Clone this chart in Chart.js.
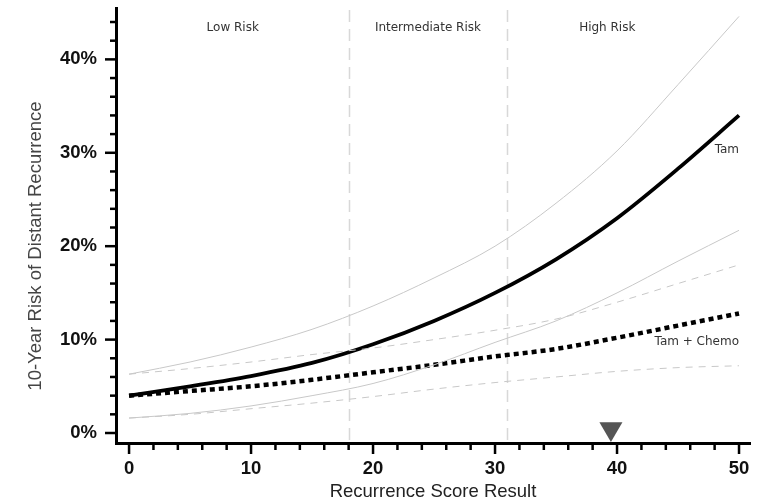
<!DOCTYPE html>
<html>
<head>
<meta charset="utf-8">
<script src="https://cdn.jsdelivr.net/npm/chart.js@4/dist/chart.umd.min.js"></script>
<style>
  html, body { margin: 0; padding: 0; background: #fff; }
  #wrap { width: 768px; height: 502px; }
</style>
</head>
<body>
<div id="wrap"><canvas id="riskChart" width="768" height="502"></canvas></div>
<script>
// Recurrence score values (x)
const scores = [0, 5, 10, 15, 20, 25, 30, 35, 40, 45, 50];

// 10-year distant recurrence (%)
const tam        = [4.0, 5.0, 6.1, 7.5, 9.5, 12.0, 15.0, 18.6, 23.0, 28.3, 34.0];
const tamUpper   = [6.3, 7.6, 9.2, 11.1, 13.6, 16.6, 20.0, 24.6, 30.2, 37.3, 44.6];
const tamLower   = [1.6, 2.1, 2.9, 4.0, 5.3, 7.3, 9.7, 12.0, 15.0, 18.4, 21.7];
const chemo      = [4.0, 4.5, 5.0, 5.7, 6.5, 7.3, 8.2, 9.0, 10.2, 11.5, 12.8];
const chemoUpper = [6.3, 6.9, 7.6, 8.4, 9.1, 10.0, 11.0, 12.2, 14.0, 16.0, 18.0];
const chemoLower = [1.6, 2.0, 2.6, 3.2, 3.9, 4.7, 5.4, 6.0, 6.6, 7.0, 7.2];

// Risk group cut points and labels
const riskCuts = [18, 31];
const riskLabels = ['Low Risk', 'Intermediate Risk', 'High Risk'];
const riskLabelX = [8.5, 24.5, 39.2];

// Patient marker
const patientScore = [39.5];

// Tick labels
const xTicks = [0, 10, 20, 30, 40, 50];
const yTicks = [0, 10, 20, 30, 40];

function pts(ys) {
    return scores.map((s, i) => ({ x: s, y: ys[i] }));
}

function lineSet(label, ys, color, width, dash) {
    return {
        label: label,
        data: pts(ys),
        borderColor: color,
        borderWidth: width,
        borderDash: dash || [],
        borderCapStyle: 'butt',
        pointRadius: 0,
        fill: false,
        cubicInterpolationMode: 'monotone'
    };
}

const decorPlugin = {
    id: 'decor',
    beforeDatasetsDraw(chart) {
        const { ctx, chartArea, scales: { x } } = chart;
        ctx.save();
        ctx.strokeStyle = '#d8d8d8';
        ctx.lineWidth = 1.5;
        ctx.setLineDash([12, 7]);
        riskCuts.forEach(v => {
            const px = Math.round(x.getPixelForValue(v)) + 0.5;
            ctx.beginPath();
            ctx.moveTo(px, chartArea.top + 2);
            ctx.lineTo(px, chartArea.bottom);
            ctx.stroke();
        });
        ctx.restore();
    },
    afterDraw(chart) {
        const { ctx, chartArea, scales: { x, y } } = chart;
        ctx.save();

        // tick marks: long at every 10, short every 2
        ctx.strokeStyle = '#000';
        ctx.lineWidth = 2.5;
        for (let v = 0; v <= 50; v += 2) {
            const px = x.getPixelForValue(v);
            const len = v % 10 === 0 ? 11 : 7;
            ctx.beginPath();
            ctx.moveTo(px, chartArea.bottom);
            ctx.lineTo(px, chartArea.bottom + len);
            ctx.stroke();
        }
        for (let v = 0; v <= 44; v += 2) {
            const py = y.getPixelForValue(v);
            const len = v % 10 === 0 ? 11 : 6;
            ctx.beginPath();
            ctx.moveTo(chartArea.left, py);
            ctx.lineTo(chartArea.left - len, py);
            ctx.stroke();
        }

        // risk group labels
        ctx.fillStyle = '#333';
        ctx.font = '12px "DejaVu Sans"';
        ctx.textAlign = 'center';
        ctx.textBaseline = 'middle';
        riskLabels.forEach((t, i) => {
            ctx.fillText(t, x.getPixelForValue(riskLabelX[i]), y.getPixelForValue(43.4));
        });

        // curve labels
        ctx.textAlign = 'right';
        ctx.fillText('Tam', x.getPixelForValue(50), y.getPixelForValue(30.3));
        ctx.fillText('Tam + Chemo', x.getPixelForValue(50), y.getPixelForValue(9.8));

        // y axis title
        ctx.translate(36, 246);
        ctx.rotate(-Math.PI / 2);
        ctx.textAlign = 'center';
        ctx.fillStyle = '#444';
        ctx.font = '18.5px "Liberation Sans", Arial, sans-serif';
        ctx.fillText('10-Year Risk of Distant Recurrence', 0, 0);
        ctx.restore();
    }
};

const tickFont = { family: '"Liberation Sans", Arial, sans-serif', size: 18.5, weight: 'bold' };

new Chart(document.getElementById('riskChart'), {
    type: 'line',
    data: {
        datasets: [
            lineSet('Tam upper', tamUpper, '#c8c8c8', 1),
            lineSet('Tam lower', tamLower, '#c8c8c8', 1),
            lineSet('Tam + Chemo upper', chemoUpper, '#c8c8c8', 1, [7, 6]),
            lineSet('Tam + Chemo lower', chemoLower, '#c8c8c8', 1, [7, 6]),
            lineSet('Tam + Chemo', chemo, '#000', 4.5, [5, 4]),
            lineSet('Tam', tam, '#000', 3.8),
            {
                label: 'Patient',
                data: patientScore.map(s => ({ x: s, y: 0.45 })),
                showLine: false,
                pointStyle: 'triangle',
                rotation: 180,
                pointRadius: 13.3,
                backgroundColor: '#555',
                borderWidth: 0
            }
        ]
    },
    options: {
        responsive: false,
        animation: false,
        layout: { autoPadding: false, padding: { top: 8, right: 18, left: 0, bottom: 0 } },
        plugins: {
            legend: { display: false },
            tooltip: { enabled: false }
        },
        scales: {
            x: {
                type: 'linear',
                min: -1.07,
                max: 50.9,
                afterFit: s => {
                    s.height = 59;
                    s.paddingLeft = 0;
                    s.paddingRight = 0;
                },
                afterBuildTicks: s => { s.ticks = xTicks.map(v => ({ value: v })); },
                grid: { display: false, drawTicks: false },
                border: { display: true, color: '#000', width: 3 },
                ticks: { padding: 15, color: '#111', font: tickFont },
                title: {
                    display: true,
                    text: 'Recurrence Score Result',
                    color: '#222',
                    padding: { top: 0, bottom: -1 },
                    font: { family: '"Liberation Sans", Arial, sans-serif', size: 18.5 }
                }
            },
            y: {
                min: -1.07,
                max: 45.5,
                afterFit: s => {
                    s.width = 116;
                    s.paddingTop = 0;
                    s.paddingBottom = 0;
                },
                afterBuildTicks: s => { s.ticks = yTicks.map(v => ({ value: v })); },
                grid: { display: false, drawTicks: false },
                border: { display: true, color: '#000', width: 3 },
                ticks: {
                    padding: 19,
                    color: '#111',
                    font: tickFont,
                    callback: v => v + '%'
                }
            }
        }
    },
    plugins: [decorPlugin]
});
</script>
</body>
</html>
